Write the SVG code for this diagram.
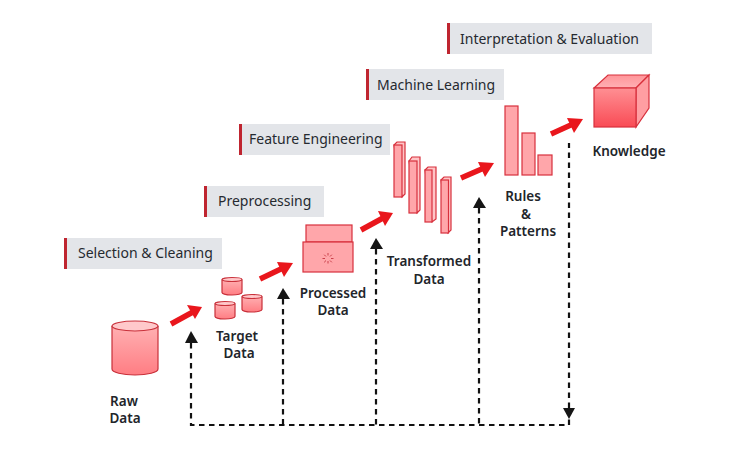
<svg xmlns="http://www.w3.org/2000/svg" width="731" height="450" viewBox="0 0 731 450">
<style>
.lab{fill:#e3e5e9}
.bar{fill:#bf2530}
.lt{font:14px "Noto Sans","Liberation Sans",sans-serif;fill:#262a30}
.nt{font:600 13.5px "Noto Sans","Liberation Sans",sans-serif;fill:#22252a;text-anchor:middle}
.sh{fill:#ffa6aa;stroke:#d8303c;stroke-width:1.2}
.sh2{fill:#ffc4c6;stroke:#d8303c;stroke-width:1.2}
.cy{fill:url(#cyl);stroke:#c9303a;stroke-width:1.2}
.top{fill:#ffc9cb;stroke:#c9303a;stroke-width:1.2}
.dash{fill:none;stroke:#111;stroke-width:2.2;stroke-dasharray:5.5 4.5}
.tri{fill:#151515}
.ar{fill:none;stroke:#e9161c;stroke-width:5.5}
.ah{fill:#e9161c}
.sp{stroke:#c9404a;stroke-width:1;fill:none}
</style>
<defs>
<linearGradient id="cyl" x1="0" y1="0" x2="0" y2="1"><stop offset="0" stop-color="#ffb0b2"/><stop offset="1" stop-color="#ff7d83"/></linearGradient>
<linearGradient id="cub" x1="0" y1="0" x2="0" y2="1"><stop offset="0" stop-color="#ff8f93"/><stop offset="1" stop-color="#f94b55"/></linearGradient>
<linearGradient id="cub2" x1="0" y1="0" x2="0" y2="1"><stop offset="0" stop-color="#ff9599"/><stop offset="1" stop-color="#ffb0b4"/></linearGradient>
<g id="c3">
<path class="cy" d="M0 2.500V15.500A10 2.500 0 0 0 20 15.500V2.500"/>
<ellipse class="top" cx="10" cy="2.500" rx="10" ry="2"/>
</g>
</defs>
<rect width="731" height="450" fill="#fff"/>

<g id="label-selection"><rect class="lab" x="64" y="238" width="158" height="31"/><rect class="bar" x="64" y="238" width="3" height="31"/><text class="lt" x="78" y="258">Selection &amp; Cleaning</text></g>
<g id="label-preprocessing"><rect class="lab" x="204" y="186" width="120" height="31"/><rect class="bar" x="204" y="186" width="3" height="31"/><text class="lt" x="218" y="206">Preprocessing</text></g>
<g id="label-feature"><rect class="lab" x="239" y="124" width="151" height="31"/><rect class="bar" x="239" y="124" width="3" height="31"/><text class="lt" x="249" y="144">Feature Engineering</text></g>
<g id="label-ml"><rect class="lab" x="366" y="69" width="138" height="31"/><rect class="bar" x="366" y="69" width="3" height="31"/><text class="lt" x="377" y="90">Machine Learning</text></g>
<g id="label-interp"><rect class="lab" x="447" y="23" width="205" height="31"/><rect class="bar" x="447" y="23" width="3" height="31"/><text class="lt" x="460" y="44">Interpretation &amp; Evaluation</text></g>

<g id="raw-data">
<path class="cy" d="M112 326V369A23 6 0 0 0 158 369V326"/>
<ellipse class="top" cx="135" cy="326" rx="23" ry="5"/>
<text class="nt" x="124" y="406">Raw</text><text class="nt" x="125" y="423">Data</text>
</g>
<g id="target-data">
<use href="#c3" x="215" y="301"/><use href="#c3" x="242" y="294"/><use href="#c3" x="222" y="277"/>
<text class="nt" x="237" y="341">Target</text><text class="nt" x="239" y="358">Data</text>
</g>
<g id="processed-data">
<rect class="sh" x="306" y="225" width="46" height="17"/>
<rect class="sh" x="303" y="242" width="50" height="30"/>
<path class="sp" d="M328 253v2.500M328 261v2.500M322.500 258.500h2.500M331 258.500h2.500M324.200 254.700l1.800 1.800M330 260.500l1.800 1.800M324.200 262.300l1.800-1.800M330 256.500l1.800-1.800"/>
<text class="nt" x="333" y="298">Processed</text><text class="nt" x="333" y="315">Data</text>
</g>
<g id="transformed-data">
<path class="sh2" d="M394 145l3-3h8v52l-3 3z"/><rect class="sh" x="394" y="145" width="8" height="52"/>
<path class="sh2" d="M409 161l3-4h8v53l-3 3z"/><rect class="sh" x="409" y="161" width="8" height="52"/>
<path class="sh2" d="M425 170l3-3h8v52l-4 3z"/><rect class="sh" x="425" y="170" width="7" height="52"/>
<path class="sh2" d="M441 180l3-3h7v53l-3 3z"/><rect class="sh" x="441" y="180" width="7.500" height="53"/>
<text class="nt" x="429" y="266">Transformed</text><text class="nt" x="429" y="284">Data</text>
</g>
<g id="rules-patterns">
<rect class="sh" x="505" y="106" width="13" height="69"/>
<rect class="sh" x="522" y="133" width="13" height="42"/>
<rect class="sh" x="538" y="155" width="14" height="20"/>
<text class="nt" x="523" y="201">Rules</text><text class="nt" x="526" y="219">&amp;</text><text class="nt" x="528" y="236">Patterns</text>
</g>
<g id="knowledge">
<path d="M594 88L608 75H649L636 88Z" fill="url(#cub2)" stroke="#d8303c" stroke-width="1.200"/>
<path d="M636 88L649 75V108L636 127Z" fill="#ff9ea2" stroke="#d8303c" stroke-width="1.200"/>
<rect x="594" y="88" width="42" height="39" fill="url(#cub)" stroke="#d8303c" stroke-width="1.200"/>
<text class="nt" x="629" y="156">Knowledge</text>
</g>

<g id="connectors">
<path class="ar" d="M171 324L192 312.500"/><path class="ah" d="M202 307L187 305L195 319Z"/>
<path class="ar" d="M260 279L283 268"/><path class="ah" d="M293 263L277 262L284 277Z"/>
<path class="ar" d="M361 230L383 218"/><path class="ah" d="M393 213L378 211L385 226Z"/>
<path class="ar" d="M461 178L484 168"/><path class="ah" d="M494 163L478 162L485 177Z"/>
<path class="ar" d="M551 134L573 124"/><path class="ah" d="M583 119L567 118L574 133Z"/>
<path class="dash" d="M569 408V143M191 343V425H569V410"/>
<path class="dash" d="M283 299V425M376 249V425M479 208V425"/>
<path class="tri" d="M191 331L185 343H198Z"/>
<path class="tri" d="M283 288L277 299H290Z"/>
<path class="tri" d="M376 238L370 249H383Z"/>
<path class="tri" d="M479 197L473 208H486Z"/>
<path class="tri" d="M569 419L563 408H575Z"/>
</g>
</svg>
